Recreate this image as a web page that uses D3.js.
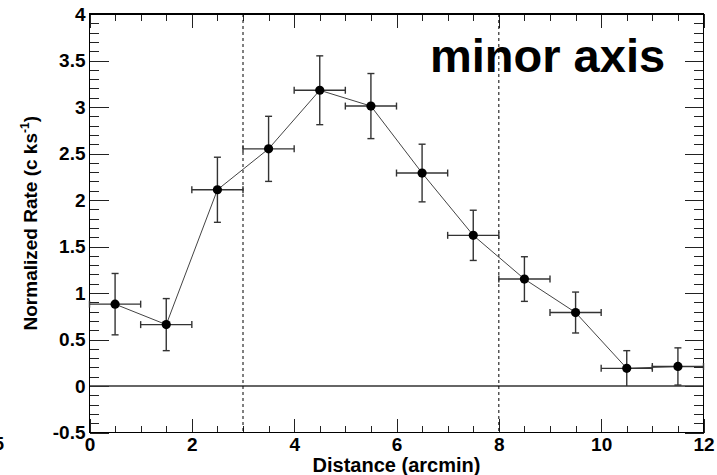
<!DOCTYPE html>
<html>
<head>
<meta charset="utf-8">
<script src="https://cdn.jsdelivr.net/npm/d3@7"></script>
<style>
  body { margin: 0; background: #fff; }
  svg { display: block; font-family: "Liberation Sans", Arial, Helvetica, sans-serif; }
  .tick text { font-weight: bold; font-size: 19px; fill: #000; }
  .domain { display: none; }
</style>
</head>
<body>
<div id="vis"></div>
<script>
// data
const distance = [0.5, 1.5, 2.5, 3.5, 4.5, 5.5, 6.5, 7.5, 8.5, 9.5, 10.5, 11.5];
const distErr  = [0.5, 0.5, 0.5, 0.5, 0.5, 0.5, 0.5, 0.5, 0.5, 0.5, 0.5, 0.5];
const rate     = [0.88, 0.66, 2.11, 2.55, 3.18, 3.01, 2.29, 1.62, 1.15, 0.79, 0.19, 0.21];
const rateErr  = [0.33, 0.28, 0.35, 0.35, 0.37, 0.35, 0.31, 0.27, 0.24, 0.22, 0.19, 0.20];
const xTicks = [0, 2, 4, 6, 8, 10, 12];
const yTicks = [-0.5, 0, 0.5, 1, 1.5, 2, 2.5, 3, 3.5, 4];
const cutLines = [3, 8];

// set the dimensions and margins of the graph
const W = 717, H = 475;
const margin = { top: 14, right: 13.5, bottom: 42.5, left: 89.5 };
const width = W - margin.left - margin.right;
const height = H - margin.top - margin.bottom;

const svgRoot = d3.select("#vis")
  .append("svg")
    .attr("width", W)
    .attr("height", H);

const svg = svgRoot.append("g")
    .attr("transform", `translate(${margin.left}, ${margin.top})`);

const x = d3.scaleLinear().domain([0, 12]).range([0, width]);
const y = d3.scaleLinear().domain([-0.5, 4]).range([height, 0]);

const xMinor = d3.range(0, 12.01, 0.5);
const yMinor = d3.range(-0.5, 4.01, 0.1).map(v => +v.toFixed(1));

const fmt = d => String(d);

// bottom axis (labels) and top axis, ticks pointing inward
svg.append("g").attr("transform", `translate(0, ${height})`)
  .call(d3.axisBottom(x).tickValues(xMinor).tickSize(-7).tickFormat(""));
svg.append("g").attr("transform", `translate(0, ${height})`)
  .call(d3.axisBottom(x).tickValues(xTicks).tickSize(-14).tickPadding(5).tickFormat(fmt));
svg.append("g")
  .call(d3.axisTop(x).tickValues(xMinor).tickSize(-7).tickFormat(""));
svg.append("g")
  .call(d3.axisTop(x).tickValues(xTicks).tickSize(-14).tickFormat(""));

// left axis (labels) and right axis
svg.append("g")
  .call(d3.axisLeft(y).tickValues(yMinor).tickSize(-9.5).tickFormat(""));
svg.append("g")
  .call(d3.axisLeft(y).tickValues(yTicks).tickSize(-19).tickPadding(4).tickFormat(fmt));
svg.append("g").attr("transform", `translate(${width}, 0)`)
  .call(d3.axisRight(y).tickValues(yMinor).tickSize(-9.5).tickFormat(""));
svg.append("g").attr("transform", `translate(${width}, 0)`)
  .call(d3.axisRight(y).tickValues(yTicks).tickSize(-19).tickFormat(""));

svg.selectAll(".tick line").attr("stroke", "#222").attr("shape-rendering", "crispEdges");

// zero line
svg.append("line")
  .attr("x1", x(0)).attr("x2", x(12))
  .attr("y1", y(0)).attr("y2", y(0))
  .attr("stroke", "#333").attr("stroke-width", 1.3);

// dashed lines
svg.selectAll(".cut")
  .data(cutLines)
  .join("line")
    .attr("class", "cut")
    .attr("x1", d => x(d)).attr("x2", d => x(d))
    .attr("y1", 0).attr("y2", height)
    .attr("stroke", "#000").attr("stroke-width", 1)
    .attr("stroke-dasharray", "3,3");

// frame
svg.append("rect")
  .attr("width", width).attr("height", height)
  .attr("fill", "none").attr("stroke", "#000").attr("stroke-width", 1.2)
  .attr("shape-rendering", "crispEdges");

const pts = distance.map((d, i) => ({ x: d, y: rate[i], ex: distErr[i], ey: rateErr[i] }));

// connecting line
svg.append("path")
  .datum(pts)
  .attr("fill", "none")
  .attr("stroke", "#444")
  .attr("stroke-width", 1)
  .attr("d", d3.line().x(d => x(d.x)).y(d => y(d.y)));

// error bars
const cap = 3.5;
const eb = svg.append("g").attr("stroke", "#333").attr("stroke-width", 1.4);
pts.forEach(p => {
  const lo = Math.max(p.y - p.ey, 0), hi = p.y + p.ey;
  eb.append("line").attr("x1", x(p.x)).attr("x2", x(p.x)).attr("y1", y(lo)).attr("y2", y(hi));
  eb.append("line").attr("x1", x(p.x) - cap).attr("x2", x(p.x) + cap).attr("y1", y(hi)).attr("y2", y(hi));
  if (p.y - p.ey > 0) {
    eb.append("line").attr("x1", x(p.x) - cap).attr("x2", x(p.x) + cap).attr("y1", y(lo)).attr("y2", y(lo));
  }
  eb.append("line").attr("x1", x(p.x - p.ex)).attr("x2", x(p.x + p.ex)).attr("y1", y(p.y)).attr("y2", y(p.y));
  eb.append("line").attr("x1", x(p.x - p.ex)).attr("x2", x(p.x - p.ex)).attr("y1", y(p.y) - cap).attr("y2", y(p.y) + cap);
  eb.append("line").attr("x1", x(p.x + p.ex)).attr("x2", x(p.x + p.ex)).attr("y1", y(p.y) - cap).attr("y2", y(p.y) + cap);
});

// markers
svg.selectAll(".pt")
  .data(pts)
  .join("circle")
    .attr("class", "pt")
    .attr("cx", d => x(d.x))
    .attr("cy", d => y(d.y))
    .attr("r", 4.6)
    .attr("fill", "#000");

// panel label
svgRoot.append("text")
  .attr("x", 430).attr("y", 72)
  .attr("font-size", 47).attr("font-weight", "bold")
  .text("minor axis");

// axis titles
svgRoot.append("text")
  .attr("x", margin.left + width / 2).attr("y", 472)
  .attr("text-anchor", "middle")
  .attr("font-size", 20).attr("font-weight", "bold")
  .text("Distance (arcmin)");

const yt = svgRoot.append("text")
  .attr("transform", `translate(37, ${margin.top + height / 2}) rotate(-90)`)
  .attr("text-anchor", "middle")
  .attr("font-size", 19).attr("font-weight", "bold");
yt.append("tspan").text("Normalized Rate (c ks");
yt.append("tspan").attr("font-size", 12).attr("dy", -8).text("-1");
yt.append("tspan").attr("dy", 8).text(")");

// clipped label from a neighbouring panel
svgRoot.append("text")
  .attr("x", 4).attr("y", 450)
  .attr("text-anchor", "end")
  .attr("font-size", 18).attr("font-weight", "bold")
  .text("5");
</script>
</body>
</html>
